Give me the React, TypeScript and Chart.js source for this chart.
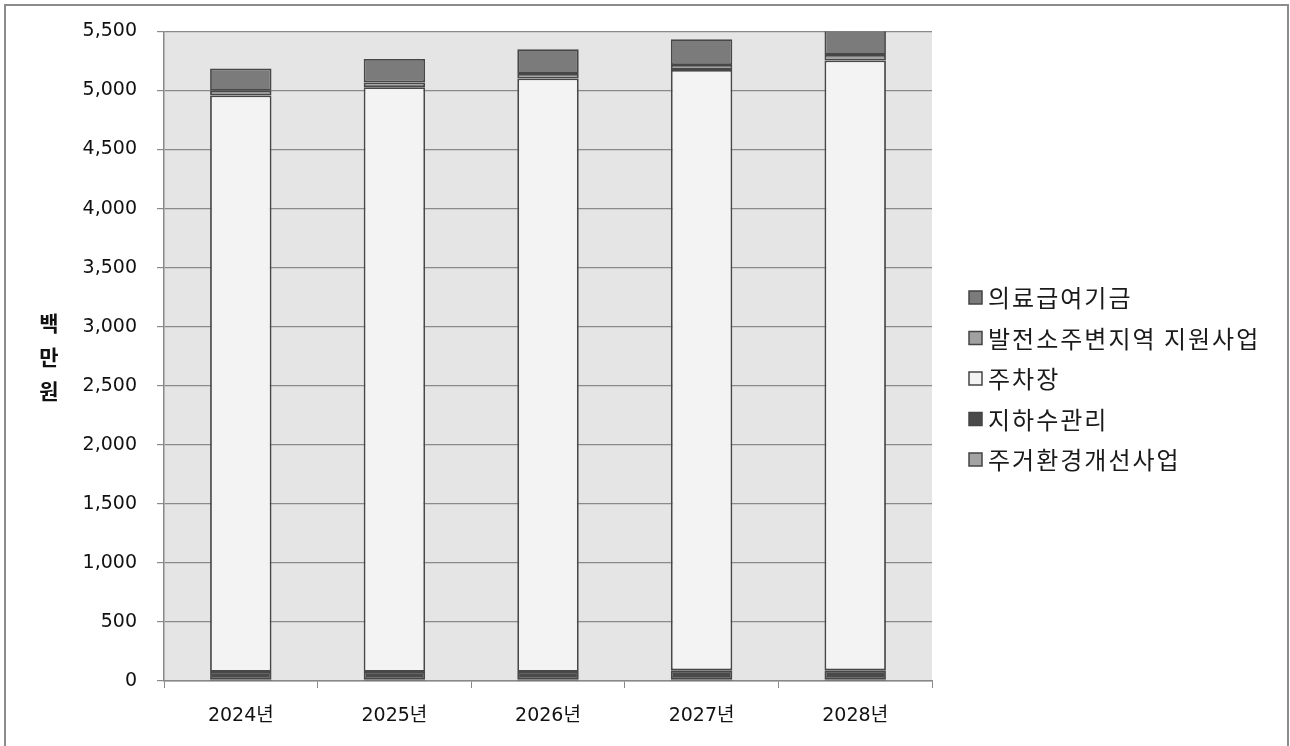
import React, { useEffect, useRef } from "react";
import { Chart, registerables } from "chart.js";

Chart.register(...registerables);

const categories = ["2024년", "2025년", "2026년", "2027년", "2028년"];
const seriesNames = ["주거환경개선사업", "지하수관리", "주차장", "발전소주변지역 지원사업", "의료급여기금"];
const housingValues = [15, 15, 15, 15, 15];
const groundwaterValues = [62, 62, 62, 75, 75];
const parkingValues = [4881, 4951, 5024, 5084, 5163];
const powerPlantValues = [40, 40, 39, 42, 48];
const medicalValues = [188, 198, 209, 217, 215];
const yTickValues = [0, 500, 1000, 1500, 2000, 2500, 3000, 3500, 4000, 4500, 5000, 5500];
const yTitleChars = ["백", "만", "원"];

const seriesColors = ["#a3a3a3", "#4a4a4a", "#f3f3f3", "#a0a0a0", "#7b7b7b"];
const NUM_FONT = "'DejaVu Sans', 'Noto Sans CJK KR', sans-serif";
const KR_FONT = "'Noto Sans CJK KR', sans-serif";

export default function App() {
  const canvasRef = useRef<HTMLCanvasElement | null>(null);

  useEffect(() => {
    const canvas = canvasRef.current;
    if (!canvas) return;
    const seriesValues = [housingValues, groundwaterValues, parkingValues, powerPlantValues, medicalValues];

    const bgPlugin = {
      id: "plotBg",
      beforeDraw(chart: any) {
        const { ctx, chartArea } = chart;
        ctx.save();
        ctx.fillStyle = "#ffffff";
        ctx.fillRect(0, 0, chart.width, chart.height);
        ctx.fillStyle = "#e5e5e5";
        ctx.fillRect(chartArea.left, chartArea.top, chartArea.right - chartArea.left, chartArea.bottom - chartArea.top);
        ctx.restore();
      },
    };

    const extrasPlugin = {
      id: "extras",
      afterDraw(chart: any) {
        const { ctx } = chart;
        ctx.save();
        ctx.fillStyle = "#111";
        ctx.font = `bold 21px ${KR_FONT}`;
        ctx.textAlign = "center";
        ctx.textBaseline = "middle";
        yTitleChars.forEach((c, i) => {
          ctx.fillText(c, 49, 323 + i * 34);
        });
        const ds = chart.data.datasets;
        const n = ds.length;
        ctx.font = `24px ${KR_FONT}`;
        ctx.textAlign = "left";
        try {
          (ctx as any).letterSpacing = "2px";
        } catch (e) {}
        for (let i = 0; i < n; i++) {
          const d = ds[n - 1 - i];
          const cy = 297 + i * 40.5;
          ctx.fillStyle = d.backgroundColor;
          ctx.fillRect(969, cy - 6, 13, 13);
          ctx.strokeStyle = "#444";
          ctx.lineWidth = 1.5;
          ctx.strokeRect(969, cy - 6, 13, 13);
          ctx.fillStyle = "#1a1a1a";
          ctx.fillText(d.label, 988, cy + 1);
        }
        ctx.restore();
      },
    };

    const chart = new Chart(canvas, {
      type: "bar",
      data: {
        labels: categories,
        datasets: seriesNames.map((name, i) => ({
          label: name,
          data: seriesValues[i],
          backgroundColor: seriesColors[i],
          borderColor: "#474747",
          borderWidth: 1.8,
          borderSkipped: false,
          barPercentage: 0.4,
          categoryPercentage: 1,
        })),
      },
      options: {
        animation: false,
        responsive: false,
        maintainAspectRatio: false,
        layout: { padding: { left: 0, top: 29, right: 358, bottom: 0 } },
        plugins: {
          legend: { display: false },
          tooltip: { enabled: false },
        },
        scales: {
          x: {
            stacked: true,
            afterFit: (scale: any) => {
              scale.height = 65;
            },
            grid: {
              offset: true,
              drawOnChartArea: false,
              drawTicks: true,
              tickLength: 7,
              color: "#888",
            },
            border: { color: "#888", width: 1.5 },
            ticks: {
              color: "#111",
              padding: 17,
              font: { family: NUM_FONT, size: 19 },
            },
          },
          y: {
            stacked: true,
            min: 0,
            max: 5500,
            afterFit: (scale: any) => {
              scale.width = 164;
            },
            afterBuildTicks: (scale: any) => {
              scale.ticks = yTickValues.map((v) => ({ value: v }));
            },
            grid: {
              color: "#8a8a8a",
              lineWidth: 1.2,
              drawTicks: true,
              tickLength: 7,
            },
            border: { color: "#888", width: 1.5 },
            ticks: {
              color: "#111",
              padding: 20,
              font: { family: NUM_FONT, size: 19 },
              callback: (v: any) => Number(v).toLocaleString("en-US"),
            },
          },
        },
      },
      plugins: [bgPlugin, extrasPlugin],
    });

    return () => chart.destroy();
  }, []);

  return (
    <div style={{ position: "fixed", left: 0, top: 0, width: 1290, height: 746, background: "#fff" }}>
      <canvas ref={canvasRef} width={1290} height={746} style={{ position: "absolute", left: 0, top: 0 }} />
      <div
        style={{
          position: "absolute",
          left: 4,
          top: 4,
          width: 1281,
          height: 800,
          border: "2px solid #8c8c8c",
          pointerEvents: "none",
        }}
      />
    </div>
  );
}
